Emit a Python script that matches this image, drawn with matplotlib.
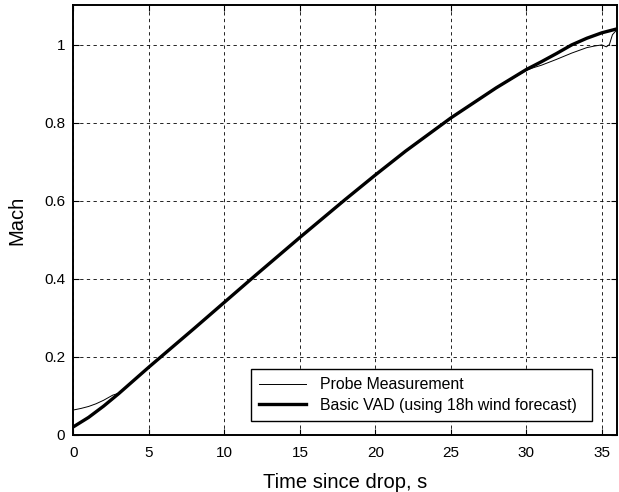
import numpy as np
import matplotlib
matplotlib.use('Agg')
import matplotlib.pyplot as plt

# Basic VAD prediction (thick line)
t_vad = [0, 1, 2, 3, 4, 5, 6, 8, 10, 12, 15, 18, 20, 22, 25, 28, 30, 31, 32, 33, 34, 35, 36]
m_vad = [0.021, 0.045, 0.074, 0.106, 0.140, 0.174, 0.207, 0.273, 0.340, 0.407, 0.506,
         0.603, 0.666, 0.727, 0.812, 0.889, 0.936, 0.956, 0.977, 0.999, 1.016, 1.030, 1.040]

# Probe measurement (thin line)
t_probe = [0, 0.5, 1, 1.5, 2, 2.6, 3, 4, 5, 6, 8, 10, 12, 15, 18, 20, 22, 25, 28, 30,
           30.5, 31, 32, 33, 34, 34.5, 35, 35.3, 35.5, 35.7, 36]
m_probe = [0.064, 0.068, 0.073, 0.080, 0.089, 0.102, 0.107, 0.141, 0.175, 0.207, 0.273,
           0.340, 0.407, 0.506, 0.602, 0.666, 0.727, 0.811, 0.888, 0.934,
           0.941, 0.947, 0.962, 0.978, 0.992, 0.996, 0.999, 0.994, 1.000, 1.025, 1.038]

xticks = [0, 5, 10, 15, 20, 25, 30, 35]
yticks = [0, 0.2, 0.4, 0.6, 0.8, 1.0]
ytick_labels = ['0', '0.2', '0.4', '0.6', '0.8', '1']

plt.rcParams['font.family'] = ['Liberation Sans', 'DejaVu Sans']

fig = plt.figure(figsize=(6.19, 4.92), dpi=100)
ax = fig.add_axes([0.1187, 0.1159, 0.878, 0.873])

ax.plot(t_probe, m_probe, color='black', lw=0.7, label='Probe Measurement')
ax.plot(t_vad, m_vad, color='black', lw=2.4, label='Basic VAD (using 18h wind forecast)')

ax.set_xlim(0, 36)
ax.set_ylim(0, 1.1)
ax.set_xticks(xticks)
ax.set_yticks(yticks)
ax.set_yticklabels(ytick_labels)
ax.tick_params(direction='in', length=4, width=0.8, labelsize=11,
               top=True, right=True)
ax.tick_params(axis='x', pad=8)
ax.tick_params(axis='y', pad=6)
ax.grid(True, color='black', linestyle=(0, (4, 4)), lw=0.6)
for s in ax.spines.values():
    s.set_linewidth(1.4)

ax.set_xlabel('Time since drop, s', fontsize=14.5, labelpad=9)
ax.set_ylabel('Mach', fontsize=14.5, labelpad=13)

# legend box stretched to the width seen in the original
leg = ax.legend(loc='lower left', bbox_to_anchor=(0.3265, 0.033, 0.627, 0.12),
                mode='expand', borderaxespad=0,
                fontsize=11.4, fancybox=False, framealpha=1, edgecolor='black',
                handlelength=3.0, handletextpad=0.85, borderpad=0.5, labelspacing=0.35)
leg.get_frame().set_linewidth(1.0)

fig.savefig('out.png', dpi=100)
